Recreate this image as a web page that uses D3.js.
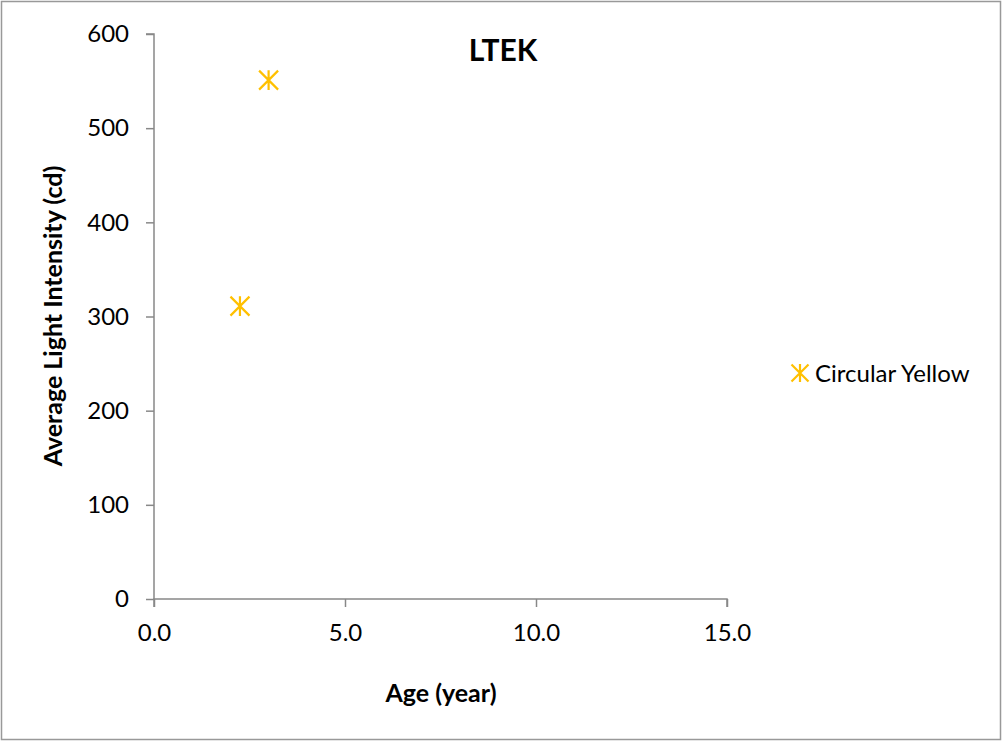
<!DOCTYPE html>
<html><head><meta charset="utf-8">
<script src="https://cdn.jsdelivr.net/npm/d3@7"></script>
<style>body{margin:0;background:#fff;}svg{display:block;font-family:Lato,"Liberation Sans",sans-serif;}</style>
</head><body>
<svg id="chart" width="1003" height="742"></svg>
<script>
const title = "LTEK";
const seriesName = "Circular Yellow";
const ages = [2.25, 3.0];
const intensities = [311, 551];
const xTicks = [0, 5, 10, 15];
const yTicks = [0, 100, 200, 300, 400, 500, 600];
const xLabel = "Age (year)";
const yLabel = "Average Light Intensity (cd)";

const svg = d3.select("#chart");
const color = "#FFC000";
const axisColor = "#888888";
svg.append("rect").attr("x",1.5).attr("y",1.5).attr("width",999).attr("height",738)
  .attr("fill","#fff").attr("stroke","#999").attr("stroke-width",1.5);

const x = d3.scaleLinear().domain([0,15]).range([154,727]);
const y = d3.scaleLinear().domain([0,600]).range([599,34]);

const yAxis = svg.append("g").attr("transform","translate(154,0)")
  .call(d3.axisLeft(y).tickValues(yTicks).tickSize(8).tickPadding(17).tickFormat(d3.format("d")));
const xAxis = svg.append("g").attr("transform","translate(0,599)")
  .call(d3.axisBottom(x).tickValues(xTicks).tickSize(8).tickPadding(20).tickFormat(d3.format(".1f")));
[xAxis,yAxis].forEach(a=>{
  a.select(".domain").attr("stroke",axisColor).attr("stroke-width",1.5);
  a.selectAll(".tick line").attr("stroke",axisColor).attr("stroke-width",1.5);
  a.selectAll(".tick text").attr("fill","#000").style("font-size","24px").style("font-family","Lato, 'Liberation Sans', sans-serif");
});
xAxis.selectAll(".tick text").attr("dy","0.6em");
yAxis.select(".domain").attr("d","M-8,"+y(600)+"H0V"+y(0));
xAxis.select(".domain").attr("d","M"+x(0)+",8V0H"+x(15)+"V8");

function star(g, cx, cy, r){
  const d = `M${cx-r},${cy-r}L${cx+r},${cy+r}M${cx-r},${cy+r}L${cx+r},${cy-r}M${cx},${cy-r*1.05}L${cx},${cy+r*1.05}`;
  g.append("path").attr("d",d).attr("stroke",color).attr("stroke-width",2.2).attr("fill","none");
}
const pts = svg.append("g");
ages.forEach((a,i)=>star(pts, x(a), y(intensities[i]), 9.5));

svg.append("text").attr("x",503).attr("y",61).attr("text-anchor","middle")
  .style("font-size","30px").style("font-weight","bold").text(title);
svg.append("text").attr("x",441).attr("y",702).attr("text-anchor","middle")
  .style("font-size","25px").style("font-weight","bold").text(xLabel);
svg.append("text").attr("transform","translate(62,316) rotate(-90)").attr("text-anchor","middle")
  .style("font-size","25px").style("font-weight","bold").text(yLabel);

const leg = svg.append("g");
star(leg, 800, 373, 8.5);
leg.append("text").attr("x",815).attr("y",382).style("font-size","24px").text(seriesName);
</script>
</body></html>
